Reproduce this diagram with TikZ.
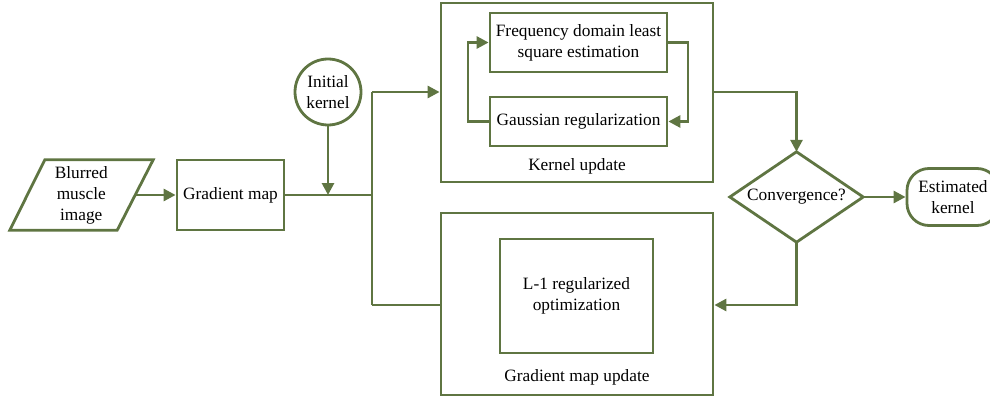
\documentclass[tikz,border=0pt]{standalone}
\usepackage{fontspec}
\setmainfont{Liberation Serif}
\usetikzlibrary{arrows.meta}
\definecolor{olive}{RGB}{95,117,66}
\tikzset{
  lw/.style={line width=2.8pt, draw=olive},
  box/.style={lw, rectangle, inner sep=0pt, align=center},
  plain/.style={rectangle, inner sep=0pt, align=center},
  conn/.style={lw, -{Triangle[length=12pt,width=12pt]}, color=olive},
  line/.style={lw},
  txt/.style={font=\rmfamily\fontsize{17.3}{21}\selectfont}
}
\begin{document}
\begin{tikzpicture}[x=1pt,y=-1pt, every node/.style={txt}]
\useasboundingbox (0,0) rectangle (990,401);
% input parallelogram
\node[plain, minimum width=107.5pt, minimum height=70pt] (blur) at (81.25,195) {Blurred\\muscle\\image};
\draw[line, line join=miter] ([xshift=17.5pt]blur.north west) -- ([xshift=18pt]blur.north east)
  -- ([xshift=-18pt]blur.south east) -- ([xshift=-17.5pt]blur.south west) -- cycle;
\node[box, minimum width=107pt, minimum height=70pt] (grad) at (230.5,195) {Gradient map};
\node[box, circle, minimum size=66pt] (init) at (328,92) {Initial\\kernel};
\coordinate (j1) at (328,195);
\coordinate (j2) at (372,195);
\coordinate (jt) at (372,92);
\coordinate (jb) at (372,305);
% kernel update
\node[box, minimum width=272pt, minimum height=179pt] (ku) at (577,92.5) {};
\node[plain] (kul) at (577,166) {Kernel update};
\node[box, minimum width=177pt, minimum height=59pt] (freq) at (578.5,42.5) {Frequency domain least\\square estimation};
\node[box, minimum width=177pt, minimum height=49pt] (gauss) at (578.5,121.5) {Gaussian regularization};
% gradient map update
\node[box, minimum width=272pt, minimum height=182pt] (gu) at (577,304) {};
\node[box, minimum width=153pt, minimum height=114pt] (l1) at (576.5,296) {L-1 regularized\\optimization};
\node[plain] (gul) at (577,377) {Gradient map update};
% convergence diamond
\node[plain, minimum width=133pt, minimum height=90pt] (conv) at (796.5,197) {Convergence?};
\draw[line, line join=miter] (conv.north) -- (conv.east) -- (conv.south) -- (conv.west) -- cycle;
\node[box, rounded corners=22pt, minimum width=92pt, minimum height=57pt] (est) at (953,197) {Estimated\\kernel};
% connectors
\draw[conn] (blur.east) -- (grad.west);
\draw[line] (grad.east) -- (j2);
\draw[conn] (init.south) -- (j1);
\draw[line] (jb) -- (jt);
\draw[conn] (jt) -- (ku.west |- jt);
\draw[line] (jb) -- (gu.west |- jb);
\draw[conn] (freq.east) -| (688,121.5) -- (gauss.east);
\draw[conn] (gauss.west) -| (468,42.5) -- (freq.west);
\draw[conn] (ku.east |- jt) -| (conv.north);
\draw[conn] (conv.east) -- (est.west);
\draw[conn] (conv.south) |- (gu.east |- jb);
\end{tikzpicture}
\end{document}
